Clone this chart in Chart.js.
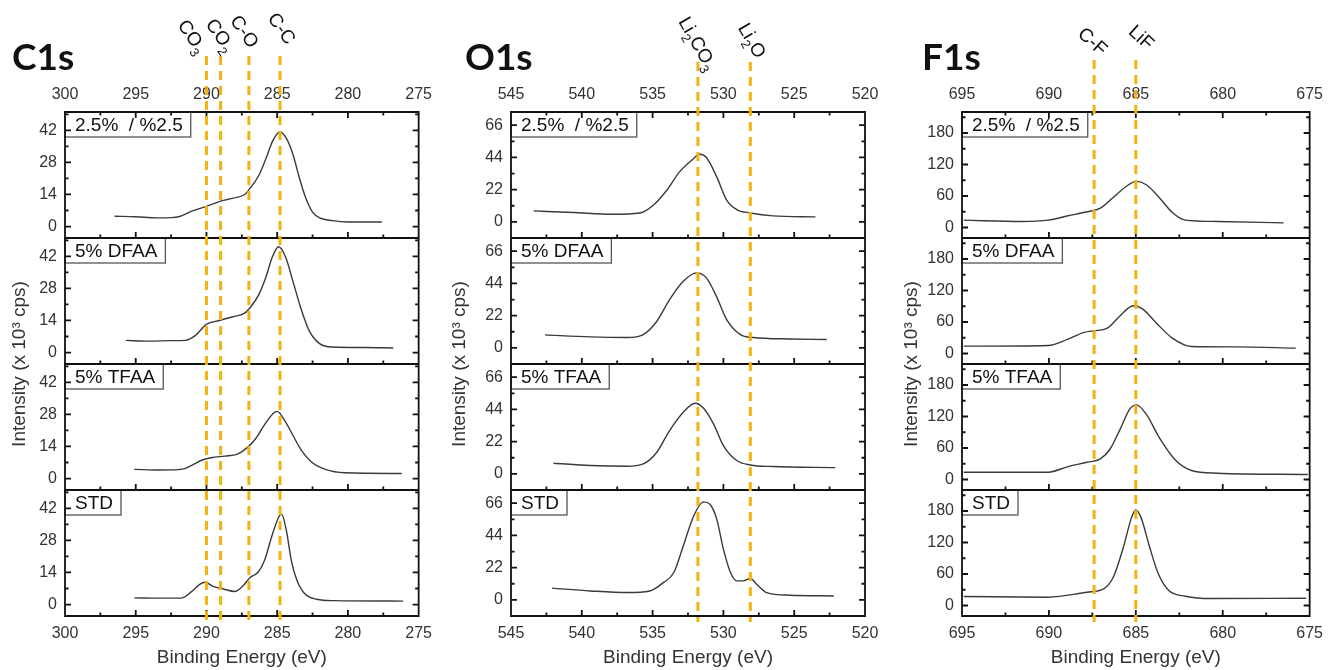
<!DOCTYPE html>
<html>
<head>
<meta charset="utf-8">
<script src="https://cdn.jsdelivr.net/npm/chart.js@4/dist/chart.umd.min.js"></script>
<style>
  html, body { margin: 0; padding: 0; background: #fff; }
  #wrap { position: relative; width: 1331px; height: 670px; overflow: hidden; }
  canvas { position: absolute; top: 0; }
</style>
</head>
<body>
<div id="wrap">
  <canvas id="graficoC1s" width="440" height="670" style="left:0px"></canvas>
  <canvas id="graficoO1s" width="450" height="670" style="left:440px"></canvas>
  <canvas id="graficoF1s" width="441" height="670" style="left:890px"></canvas>
</div>
<script>
// ── Paleta ──────────────────────────────
var PRETO     = '#111111';
var CURVA     = '#3a3a3a';
var LARANJA   = '#f2b20f';
var CINZA_BOX = '#555555';
var TEXTO     = '#333333';
var FONTE     = "'Liberation Sans', Arial, sans-serif";

Chart.defaults.font.family = FONTE;
Chart.defaults.font.size   = 16;
Chart.defaults.color       = TEXTO;

var AMOSTRAS   = ['2.5%  / %2.5', '5% DFAA', '5% TFAA', 'STD'];
var EIXOS_Y    = ['y0', 'y1', 'y2', 'y3'];

// ── C1s ─────────────────────────────────
var C1S_X_TICKS = [300, 295, 290, 285, 280, 275];
var C1S_Y_TICKS = [0, 14, 28, 42];
var C1S_PICOS   = [290, 289, 287, 284.8];
var C1S_ROTULOS = ['CO_3', 'CO_2', 'C-O', 'C-C'];

var c1s_25 = [[296.5,4.5],[295,4.3],[293.5,3.8],[292.5,3.9],[291.9,4.4],[291,6.8],[290,8.8],[289,11.1],
  [288.1,12.4],[287.3,14],[286.9,16.9],[286.3,22.3],[285.8,29.6],[285.3,37.6],[284.8,41.3],[284.4,39],
  [283.9,31.8],[283.45,21.6],[283,12.8],[282.5,6.3],[282,3.8],[281.1,2.6],[280,2.0],[277.6,2.0]];
var c1s_dfaa = [[295.7,5.3],[294,5.0],[292.5,5.2],[291.5,5.3],[290.8,7.4],[290,12.3],[289.1,14],[288.2,15.5],
  [287.3,17.2],[286.85,20.1],[286.3,25.3],[285.8,32.9],[285.35,41.6],[284.9,46.2],[284.4,41.6],[283.9,31.4],
  [283.35,19.8],[282.75,9.7],[282,3.9],[281.1,2.4],[278.8,2.2],[276.8,2.0]];
var c1s_tfaa = [[295.1,4.0],[293.3,3.7],[291.7,4.1],[291,5.9],[290.3,8.1],[289.6,9.2],[288.7,9.8],[287.8,10.7],
  [287.1,13.6],[286.5,17.6],[285.9,23.4],[285.3,28.3],[285,29.3],[284.5,25.6],[283.9,19],[283.3,12.4],
  [282.6,7.3],[281.6,4],[280.2,2.5],[276.2,2.2]];
var c1s_std = [[295.1,2.9],[293.5,2.8],[291.8,2.8],[291.1,5.4],[290.5,8.7],[290.1,9.7],[289.5,7.8],[288.8,6.8],
  [288,5.7],[287.4,8.3],[286.9,11.9],[286.35,14.1],[285.9,19.2],[285.4,29.4],[284.9,38.1],[284.7,39.5],
  [284.35,32.3],[284,19.2],[283.6,10.5],[283.05,4.7],[282.2,2.3],[281,1.7],[276.1,1.5]];

// ── O1s ─────────────────────────────────
var O1S_X_TICKS = [545, 540, 535, 530, 525, 520];
var O1S_Y_TICKS = [0, 22, 44, 66];
var O1S_PICOS   = [531.8, 528.1];
var O1S_ROTULOS = ['Li_2CO_3', 'Li_2O'];

var o1s_25 = [[543.4,7.5],[540.6,6.4],[537.8,5.2],[535.9,6.1],[534.95,11.4],[534,21.6],[533.1,34.1],[532.24,42.1],
  [531.65,46.2],[531.2,43.9],[530.47,30.7],[529.77,14.8],[529.06,8.4],[528.1,6.1],[526.5,4.1],[523.5,3.4]];
var o1s_dfaa = [[542.6,8.9],[539.4,7.5],[536.8,7.1],[535.66,9.1],[534.7,18.2],[533.8,33],[532.83,45.5],[531.9,51.2],
  [531.2,47.8],[530.5,35.3],[529.77,19.3],[528.8,9.1],[527.9,7.1],[525.3,6.1],[522.7,5.7]];
var o1s_tfaa = [[542,7.3],[539.4,5.7],[536.8,5.2],[535.66,6.8],[534.7,14.8],[533.8,29.6],[532.83,42.1],[532,48.2],
  [531.4,44.8],[530.7,34.1],[530,19.3],[529.06,9.1],[528.1,6.1],[526.5,5],[522.1,4.3]];
var o1s_std = [[542.1,8],[539.4,6.1],[536.8,5],[535.2,6.1],[534.24,11.8],[533.5,18.7],[532.83,36.9],[532.1,57.3],
  [531.4,66.9],[530.95,65.3],[530.47,55.1],[530,34.6],[529.5,18.7],[529.06,13],[528.6,13],[528.1,14.6],
  [527.65,10.7],[526.94,5],[525.3,3.2],[522.2,2.7]];

// ── F1s ─────────────────────────────────
var F1S_X_TICKS = [695, 690, 685, 680, 675];
var F1S_Y_TICKS = [0, 60, 120, 180];
var F1S_PICOS   = [687.4, 685.0];
var F1S_ROTULOS = ['C-F', 'LiF'];

var f1s_25 = [[694.9,14],[691.55,11.5],[690.04,14],[688.9,22.3],[687.8,29.9],[687.04,36.9],[686.3,57.3],[685.5,79.5],
  [684.97,87.8],[684.4,81.4],[683.66,57.3],[682.9,28.6],[682.15,14],[680.3,11.5],[676.5,8.9]];
var f1s_dfaa = [[694.9,14],[690.04,15.3],[688.9,27.4],[687.97,40.1],[687.4,43.3],[686.66,47.7],[685.9,71.9],
  [685.16,91],[684.6,84.6],[683.85,59.2],[682.9,29.3],[681.8,13.4],[679.3,12.7],[675.8,10.2]];
var f1s_tfaa = [[694.9,13.9],[690.04,13.9],[688.9,24.6],[687.8,32.8],[687.04,39.2],[686.48,58.1],[685.9,96],
  [685.35,133.9],[684.97,142.1],[684.4,124.4],[683.66,80.2],[682.7,36],[681.8,17.1],[680.3,12],[675.1,9.5]];
var f1s_std = [[694.9,17.1],[690.04,15.8],[687.8,25.3],[686.85,31.6],[686.3,53.7],[685.72,110.5],[685.25,167.4],
  [685.01,182],[684.7,167.4],[684.2,110.5],[683.7,60],[683.1,28.4],[682.15,17.7],[680.65,13.3],[675.2,13.9]];

// texto com subscritos: "Li_2O" -> Li, 2 (sub), O
function textoRico(ctx, txt, tam) {
  var seg = [];
  for (var i = 0; i < txt.length; i++) {
    if (txt[i] === '_') { seg.push({ t: txt[i + 1], sub: true }); i++; }
    else if (seg.length && !seg[seg.length - 1].sub) seg[seg.length - 1].t += txt[i];
    else seg.push({ t: txt[i], sub: false });
  }
  var larg = 0;
  seg.forEach(function(s) {
    ctx.font = (s.sub ? Math.round(tam * 0.68) : tam) + 'px ' + FONTE;
    s.w = ctx.measureText(s.t).width;
    larg += s.w;
  });
  var x = -larg / 2;
  seg.forEach(function(s) {
    ctx.font = (s.sub ? Math.round(tam * 0.68) : tam) + 'px ' + FONTE;
    ctx.fillText(s.t, x, s.sub ? tam * 0.38 : 0);
    x += s.w;
  });
}

function enfeites(cfg) {
  return {
    id: 'enfeites',
    afterDraw: function(chart) {
      var ctx = chart.ctx, area = chart.chartArea, sx = chart.scales.x;
      ctx.save();

      // caixas com o nome da amostra
      ctx.font = '19px ' + FONTE;
      ctx.textBaseline = 'middle';
      EIXOS_Y.forEach(function(id, i) {
        var s = chart.scales[id];
        var w = ctx.measureText(AMOSTRAS[i]).width + 18;
        ctx.fillStyle = '#fff';
        ctx.fillRect(area.left, s.top, w, 25);
        ctx.strokeStyle = CINZA_BOX; ctx.lineWidth = 1.3;
        ctx.strokeRect(area.left, s.top, w, 25);
        ctx.fillStyle = PRETO;
        ctx.fillText(AMOSTRAS[i], area.left + 10, s.top + 13.5);
      });

      // molduras e ticks para dentro
      ctx.strokeStyle = PRETO; ctx.lineWidth = 1.8;
      ctx.beginPath();
      EIXOS_Y.forEach(function(id) {
        var s = chart.scales[id];
        ctx.rect(area.left, s.top, area.right - area.left, s.bottom - s.top);
        for (var v = Math.ceil(s.min / cfg.yMenor) * cfg.yMenor; v <= s.max; v += cfg.yMenor) {
          var py = s.getPixelForValue(v);
          var L = Math.abs(v % (cfg.yMenor * 2)) < 1e-6 ? 6 : 3.5;
          ctx.moveTo(area.left, py); ctx.lineTo(area.left + L, py);
          ctx.moveTo(area.right, py); ctx.lineTo(area.right - L, py);
        }
        for (var e = cfg.xMin; e <= cfg.xMax; e += 2.5) {
          var px = sx.getPixelForValue(e);
          var Lx = (e % 5 === 0) ? 6 : 3.5;
          ctx.moveTo(px, s.bottom); ctx.lineTo(px, s.bottom - Lx);
        }
      });
      for (var e2 = cfg.xMin; e2 <= cfg.xMax; e2 += 2.5) {
        var px2 = sx.getPixelForValue(e2);
        ctx.moveTo(px2, area.top); ctx.lineTo(px2, area.top + ((e2 % 5 === 0) ? 6 : 3.5));
      }
      ctx.stroke();

      // linhas tracejadas dos picos
      ctx.strokeStyle = LARANJA; ctx.lineWidth = 3; ctx.setLineDash([9, 6]);
      cfg.picos.forEach(function(e) {
        var px = sx.getPixelForValue(e);
        ctx.beginPath(); ctx.moveTo(px, cfg.topoPico); ctx.lineTo(px, area.bottom + 6); ctx.stroke();
      });
      ctx.setLineDash([]);

      // rótulos dos picos
      ctx.fillStyle = PRETO;
      ctx.textBaseline = 'middle';
      ctx.textAlign = 'left';
      cfg.picos.forEach(function(e, i) {
        var px = sx.getPixelForValue(e);
        ctx.save();
        ctx.translate(px + cfg.rotDx[i], cfg.topoPico + cfg.rotDy[i]);
        ctx.rotate(cfg.rotAng * Math.PI / 180);
        textoRico(ctx, cfg.rotulos[i], 19);
        ctx.restore();
      });

      // título do painel
      ctx.font = 'bold 37px Lato, ' + FONTE;
      ctx.textBaseline = 'alphabetic';
      ctx.fillText(cfg.titulo, cfg.tituloX, 70);

      // títulos dos eixos
      ctx.fillStyle = TEXTO;
      ctx.font = '19px ' + FONTE;
      ctx.textAlign = 'center';
      ctx.textBaseline = 'middle';
      ctx.fillText('Binding Energy (eV)', (area.left + area.right) / 2, 658);
      ctx.save();
      ctx.translate(cfg.yTituloX, (area.top + area.bottom) / 2);
      ctx.rotate(-Math.PI / 2);
      ctx.fillText('Intensity (x 10\u00b3 cps)', 0, 0);
      ctx.restore();

      ctx.restore();
    }
  };
}

function eixoX(pos, cfg) {
  return {
    type: 'linear', position: pos, reverse: true,
    min: cfg.xMin, max: cfg.xMax,
    grid: { display: false, drawTicks: false }, border: { display: false },
    ticks: { padding: pos === 'top' ? 8 : 8, color: TEXTO, maxRotation: 0, autoSkip: false },
    afterBuildTicks: function(s) { s.ticks = cfg.xTicks.map(function(v) { return { value: v }; }); },
    afterFit: function(s) { s.height = 30; }
  };
}

function painelXPS(id, cfg) {
  var datasets = cfg.series.map(function(serie, i) {
    return {
      data: serie.map(function(p) { return { x: p[0], y: p[1] }; }),
      yAxisID: EIXOS_Y[i],
      borderColor: CURVA,
      borderWidth: 1.4,
      pointRadius: 0,
      cubicInterpolationMode: 'monotone',
      fill: false
    };
  });
  var scales = { x: eixoX('bottom', cfg), xTopo: eixoX('top', cfg) };
  // o primeiro eixo empilhado fica embaixo: registra de baixo para cima
  EIXOS_Y.slice().reverse().forEach(function(yid) {
    scales[yid] = {
      type: 'linear', position: 'left', stack: 'painel', stackWeight: 1,
      min: cfg.yMin, max: cfg.yMax,
      grid: { display: false, drawTicks: false }, border: { display: false },
      ticks: { padding: 8, color: TEXTO },
      afterBuildTicks: function(s) { s.ticks = cfg.yTicks.map(function(v) { return { value: v }; }); },
      afterFit: function(s) { s.width = 50; }
    };
  });
  new Chart(document.getElementById(id), {
    type: 'line',
    data: { datasets: datasets },
    options: {
      responsive: false,
      animation: false,
      layout: { padding: cfg.padding },
      plugins: { legend: { display: false }, tooltip: { enabled: false } },
      scales: scales
    },
    plugins: [enfeites(cfg)]
  });
}

painelXPS('graficoC1s', {
  titulo: 'C1s', tituloX: 12, yTituloX: 20,
  xMin: 275, xMax: 300, xTicks: C1S_X_TICKS,
  yMin: -5, yMax: 50, yTicks: C1S_Y_TICKS, yMenor: 7,
  series: [c1s_25, c1s_dfaa, c1s_tfaa, c1s_std],
  picos: C1S_PICOS, rotulos: C1S_ROTULOS, topoPico: 56, rotAng: 55,
  rotDx: [-15, -1, -5, 1], rotDy: [-19, -20, -24, -27],
  padding: { left: 15, right: 20, top: 82, bottom: 24 }
});

painelXPS('graficoO1s', {
  titulo: 'O1s', tituloX: 25, yTituloX: 20,
  xMin: 520, xMax: 545, xTicks: O1S_X_TICKS,
  yMin: -11, yMax: 75, yTicks: O1S_Y_TICKS, yMenor: 11,
  series: [o1s_25, o1s_dfaa, o1s_tfaa, o1s_std],
  picos: O1S_PICOS, rotulos: O1S_ROTULOS, topoPico: 62, rotAng: 60,
  rotDx: [-1, 1], rotDy: [-18, -21],
  padding: { left: 21, right: 25, top: 82, bottom: 24 }
});

painelXPS('graficoF1s', {
  titulo: 'F1s', tituloX: 32, yTituloX: 22,
  xMin: 675, xMax: 695, xTicks: F1S_X_TICKS,
  yMin: -20, yMax: 220, yTicks: F1S_Y_TICKS, yMenor: 30,
  series: [f1s_25, f1s_dfaa, f1s_tfaa, f1s_std],
  picos: F1S_PICOS, rotulos: F1S_ROTULOS, topoPico: 60, rotAng: 42,
  rotDx: [-2, 5], rotDy: [-18, -22],
  padding: { left: 22, right: 14, top: 82, bottom: 24 }
});
</script>
</body>
</html>
